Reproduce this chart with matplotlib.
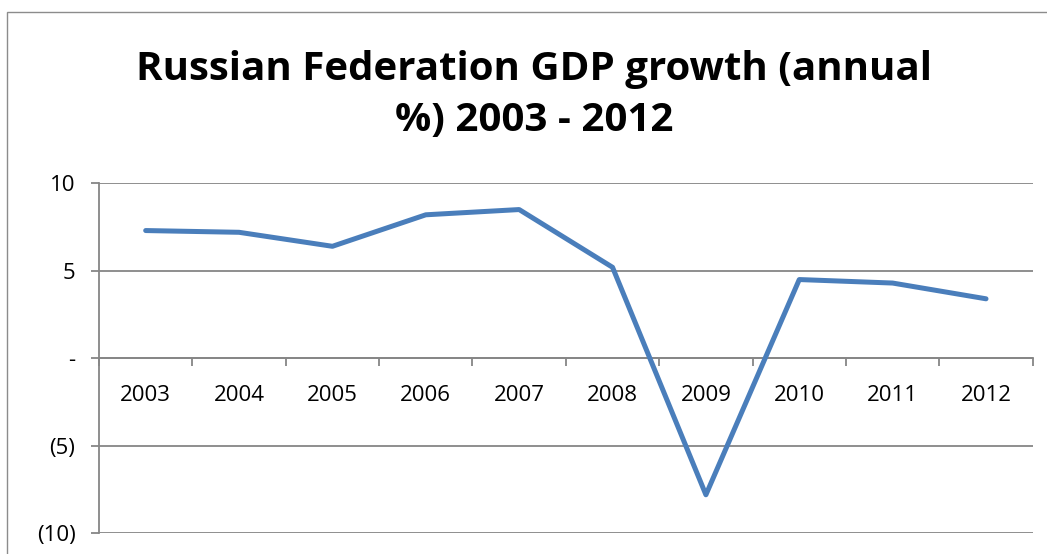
import matplotlib
matplotlib.use('Agg')
import matplotlib.pyplot as plt
from matplotlib.patches import Rectangle
from matplotlib.ticker import FixedLocator, FuncFormatter

plt.rcParams['font.family'] = ['Open Sans', 'DejaVu Sans']

years = ['2003', '2004', '2005', '2006', '2007', '2008', '2009', '2010', '2011', '2012']
gdp_growth = [7.3, 7.2, 6.4, 8.2, 8.5, 5.2, -7.8, 4.5, 4.3, 3.4]
y_ticks = [-10, -5, 0, 5, 10]

GRID = '#868686'
BLUE = '#4a7ebb'


def accounting(v, pos):
    # Excel accounting style: negatives in brackets, zero as a dash
    if v == 0:
        return '-'
    if v < 0:
        return f'({abs(v):.0f})'
    return f'{v:.0f}'


W, H = 1047, 554
fig = plt.figure(figsize=(W / 100, H / 100), dpi=100)

# chart frame (left and top edges show)
fig.patches.append(Rectangle((7 / W, -0.1), 1.2, 1.1 - 12 / H, transform=fig.transFigure,
                             fill=False, edgecolor='#8c8c8c', lw=1.0))

ax = fig.add_axes([99 / W, 1 - 533.3 / H, (1032.7 - 99) / W, (533.3 - 183.3) / H])

xs = [i + 0.5 for i in range(len(years))]
ax.plot(xs, gdp_growth, color=BLUE, lw=3.6, solid_capstyle='round', solid_joinstyle='round', zorder=3)

ax.set_xlim(0, len(years))
ax.set_ylim(-10, 10)

ax.yaxis.set_major_locator(FixedLocator(y_ticks))
ax.yaxis.set_major_formatter(FuncFormatter(accounting))
ax.grid(axis='y', color=GRID, lw=1.3)
ax.set_axisbelow(True)

# category axis sits on zero, ticks between categories
ax.spines['bottom'].set_position(('data', 0))
ax.xaxis.set_major_locator(FixedLocator(range(len(years) + 1)))
ax.xaxis.set_major_formatter(FuncFormatter(lambda v, p: ''))
ax.xaxis.set_minor_locator(FixedLocator(xs))
ax.set_xticklabels(years, minor=True)
ax.tick_params(axis='x', which='major', direction='out', length=6, width=1.3, color=GRID)
ax.tick_params(axis='x', which='minor', length=0, pad=19, labelsize=16)
ax.tick_params(axis='y', direction='out', length=6, width=1.3, color=GRID, pad=11, labelsize=16)

for s in ['top', 'right']:
    ax.spines[s].set_visible(False)
for s in ['left', 'bottom']:
    ax.spines[s].set_color(GRID)
    ax.spines[s].set_linewidth(1.3)

fig.text(534 / W, 1 - 95 / H, 'Russian Federation GDP growth (annual\n%) 2003 - 2012',
         ha='center', va='center', fontsize=29, fontweight='bold', linespacing=1.42)

fig.savefig('out.png', dpi=100)
